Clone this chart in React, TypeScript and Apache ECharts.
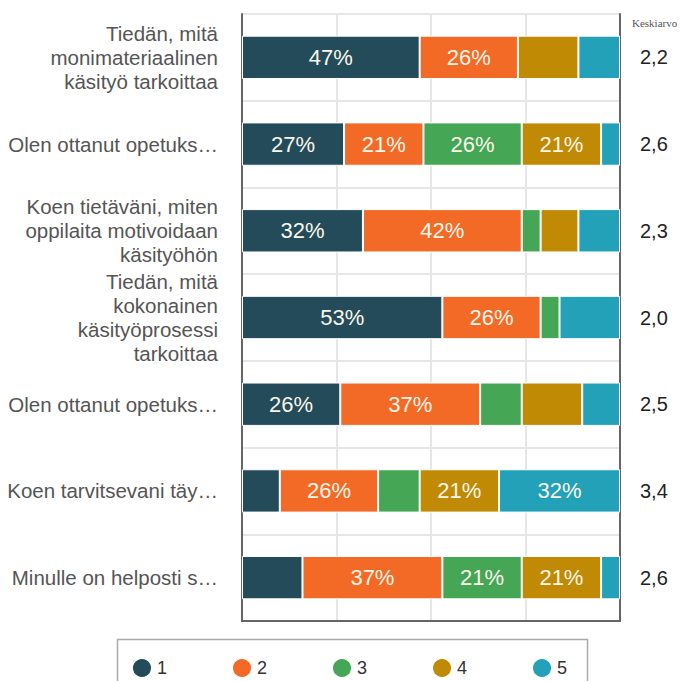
import React, { useEffect, useRef } from "react";
import * as echarts from "echarts";

const categories = [
  "Tiedän, mitä\nmonimateriaalinen\nkäsityö tarkoittaa",
  "Olen ottanut opetuks…",
  "Koen tietäväni, miten\noppilaita motivoidaan\nkäsityöhön",
  "Tiedän, mitä\nkokonainen\nkäsityöprosessi\ntarkoittaa",
  "Olen ottanut opetuks…",
  "Koen tarvitsevani täy…",
  "Minulle on helposti s…",
];
const seriesNames = ["1", "2", "3", "4", "5"];
const s1 = [47, 27, 32, 53, 26, 10, 16];
const s2 = [26, 21, 42, 26, 37, 26, 37];
const s3 = [0, 26, 5, 5, 11, 11, 21];
const s4 = [16, 21, 10, 0, 16, 21, 21];
const s5 = [11, 5, 11, 16, 10, 32, 5];
const averages = ["2,2", "2,6", "2,3", "2,0", "2,5", "3,4", "2,6"];
const colors = ["#234B5A", "#F26A26", "#45A756", "#C18A05", "#22A1B8"];
const averageTitle = "Keskiarvo";

export default function App() {
  const ref = useRef<HTMLDivElement>(null);
  useEffect(() => {
    if (!ref.current) return;
    const chart = echarts.init(ref.current, undefined, { renderer: "svg" });
    const values = [s1, s2, s3, s4, s5];
    const font = "'Liberation Sans', Arial, sans-serif";
    chart.setOption({
      animation: false,
      grid: { left: 242, right: 73, top: 14, bottom: 60, containLabel: false },
      xAxis: {
        type: "value",
        min: 0,
        max: 100,
        interval: 25,
        axisLabel: { show: false },
        axisTick: { show: false },
        axisLine: { show: true, onZero: false, lineStyle: { color: "#666", width: 2 } },
        splitLine: { show: true, lineStyle: { color: "#e6e6e6", width: 2 } },
      },
      yAxis: [
        {
          type: "category",
          data: categories,
          inverse: true,
          axisTick: { show: false },
          axisLine: { show: true, lineStyle: { color: "#666", width: 2 } },
          splitLine: { show: true, lineStyle: { color: "#e6e6e6", width: 2 } },
          axisLabel: {
            margin: 24,
            fontSize: 20.5,
            lineHeight: 24,
            color: "#555",
            fontFamily: font,
            align: "right",
          },
        },
        {
          type: "category",
          data: averages,
          inverse: true,
          position: "right",
          axisTick: { show: false },
          axisLine: { show: true, lineStyle: { color: "#666", width: 2 } },
          splitLine: { show: false },
          axisLabel: {
            margin: 20,
            fontSize: 20,
            color: "#222",
            fontFamily: font,
          },
        },
      ],
      legend: {
        data: seriesNames,
        icon: "circle",
        itemWidth: 20,
        itemHeight: 20,
        itemGap: 64,
        left: 126,
        top: 652,
        textStyle: { fontSize: 18, color: "#333", fontFamily: font },
      },
      graphic: [
        {
          type: "rect",
          shape: { x: 117.5, y: 639.5, width: 470, height: 80 },
          style: { fill: "none", stroke: "#aaa", lineWidth: 1.5 },
          silent: true,
        },
        {
          type: "text",
          x: 632,
          y: 17,
          style: {
            text: averageTitle,
            fontSize: 11,
            fill: "#555",
            fontFamily: "'Liberation Serif', 'DejaVu Serif', serif",
          },
        },
      ],
      series: seriesNames.map((name, i) => ({
        name,
        type: "bar",
        stack: "total",
        barWidth: "50%",
        data: values[i],
        itemStyle: { color: colors[i], borderColor: "#fff", borderWidth: 1 },
        label: {
          show: true,
          position: "inside",
          fontSize: 22,
          color: "#fbf7ea",
          fontFamily: font,
          formatter: (p: any) => (p.value >= 20 ? p.value + "%" : ""),
        },
      })),
    });
    return () => chart.dispose();
  }, []);
  return (
    <div
      ref={ref}
      style={{ position: "fixed", left: 0, top: 0, width: 693, height: 681, background: "#fff" }}
    />
  );
}
